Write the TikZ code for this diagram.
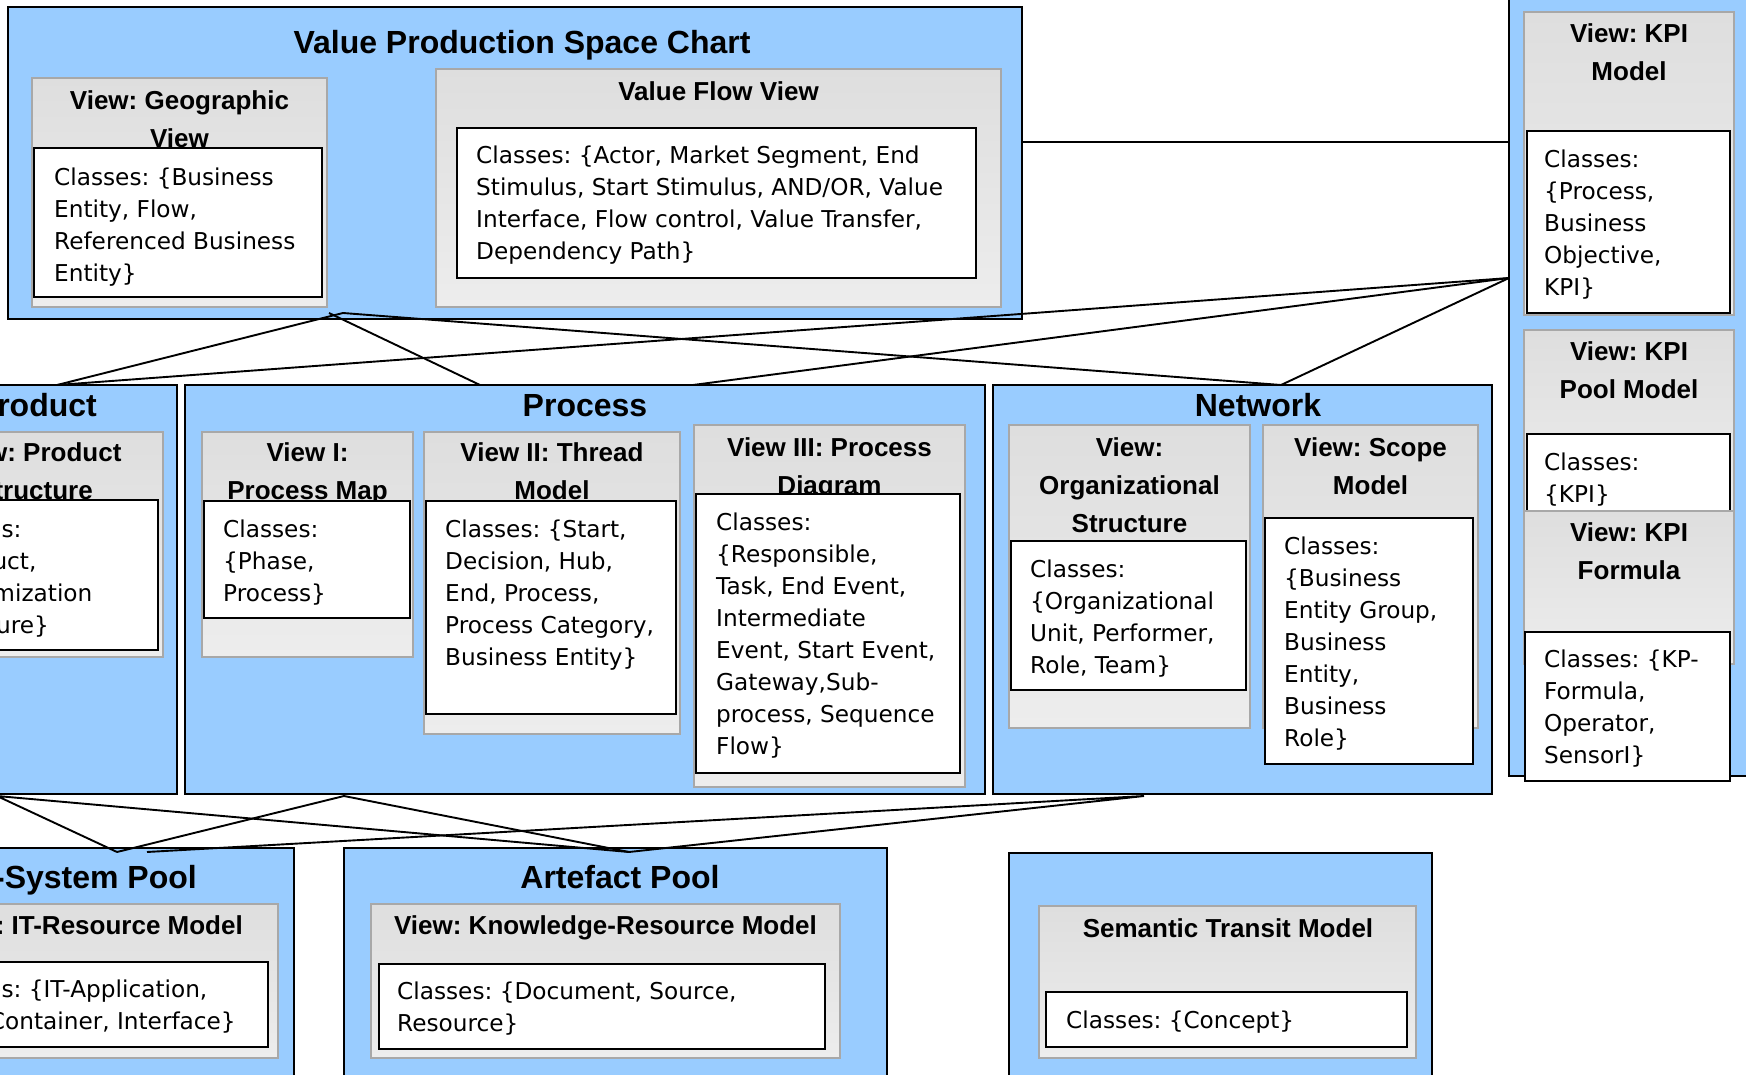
\documentclass[tikz,border=0pt]{standalone}
\usepackage{fontspec}
\setmainfont{DejaVu Sans}
\newfontfamily\mytfont{Liberation Sans}
\usetikzlibrary{fit}
\definecolor{blueF}{HTML}{99CCFF}
\definecolor{grayT}{HTML}{DEDEDE}
\definecolor{grayU}{HTML}{EDEDED}
\definecolor{grayE}{HTML}{A8A8A8}
\newcommand\myfl{\rule{0pt}{0.8em}}
\newcommand\myft{\rule{0pt}{0.73em}}
\newcommand\mygt{\rule{0pt}{0.75em}}
\frenchspacing
\begin{document}
\begin{tikzpicture}[x=1pt,y=-1pt,
  outerbox/.style={draw=black, line width=1.6pt, fill=blueF, inner sep=0pt},
  graybox/.style={draw=grayE, line width=1.6pt, top color=grayT, bottom color=grayU, inner sep=0pt},
  whitebox/.style={draw=black, line width=1.8pt, fill=white, inner sep=0pt},
  grp/.style={font=\mytfont\bfseries\fontsize{32}{38}\selectfont, inner sep=0pt, align=center},
  vtitle/.style={font=\mytfont\bfseries\fontsize{26}{38}\selectfont, inner sep=0pt, align=center},
  body/.style={font=\fontsize{23.2}{32}\selectfont, inner sep=0pt, align=left},
  link/.style={line width=1.9pt, black}]
\useasboundingbox (0,0) rectangle (1746,1075);
\clip (0,0) rectangle (1746,1075);

% ---------- Value Production Space Chart ----------
\node[outerbox, fit={(8,7) (1022,319)}] (vpsc) {};
\node[grp, anchor=north] (vpscT) at (522,29) {\mygt Value Production Space Chart};
\node[graybox, fit={(32,78) (327,307)}] (geo) {};
\node[vtitle, anchor=north] (geoT) at (179.5,90) {\myft View: Geographic\\View};
\node[whitebox, fit={(34,148) (322,297)}] (geoW) {};
\node[body, anchor=north west] (geoC) at (54,167) {\myfl Classes: \{Business\\Entity, Flow,\\Referenced Business\\Entity\}};
\node[graybox, fit={(436,69) (1001,307)}] (vf) {};
\node[vtitle, anchor=north] (vfT) at (718.5,81) {\myft Value Flow View};
\node[whitebox, fit={(457,128) (976,278)}] (vfW) {};
\node[body, anchor=north west] (vfC) at (476,145) {\myfl Classes: \{Actor, Market Segment, End\\Stimulus, Start Stimulus, AND/OR, Value\\Interface, Flow control, Value Transfer,\\Dependency Path\}};

% ---------- KPI column ----------
\node[outerbox, fit={(1509,-10) (1760,776)}] (kpi) {};
\node[graybox, fit={(1524,12) (1734,315)}] (kpim) {};
\node[vtitle, anchor=north] (kpimT) at (1629,23) {\myft View: KPI\\Model};
\node[whitebox, fit={(1527,131) (1730,313)}] (kpimW) {};
\node[body, anchor=north west] (kpimC) at (1544,149) {\myfl Classes:\\\{Process,\\Business\\Objective,\\KPI\}};
\node[graybox, fit={(1524,330) (1734,514)}] (kpip) {};
\node[vtitle, anchor=north] (kpipT) at (1629,341) {\myft View: KPI\\Pool Model};
\node[whitebox, fit={(1527,434) (1730,540)}] (kpipW) {};
\node[body, anchor=north west] (kpipC) at (1544,452) {\myfl Classes:\\\{KPI\}};
\node[graybox, fit={(1524,511) (1734,664)}] (kpif) {};
\node[vtitle, anchor=north] (kpifT) at (1629,522) {\myft View: KPI\\Formula};
\node[whitebox, fit={(1525,632) (1730,781)}] (kpifW) {};
\node[body, anchor=north west] (kpifC) at (1544,649) {\myfl Classes: \{KP-\\Formula,\\Operator,\\SensorI\}};

% ---------- Product ----------
\node[outerbox, fit={(-110,385) (177,794)}] (prod) {};
\node[grp, anchor=north east] (prodT0) at (97,392) {\mygt Product};
\node[graybox, fit={(-93,432) (163,657)}] (prodV) {};
\node[vtitle, anchor=north] (prodVT) at (35,442) {\myft View: Product\\Structure};
\node[whitebox, fit={(-100,500) (158,650)}] (prodW) {};
\node[body, anchor=north west] (prodC) at (-74,519) {\myfl Classes:\\\{Product,\\Customization\\Structure\}};

% ---------- Process ----------
\node[outerbox, fit={(185,385) (985,794)}] (proc) {};
\node[grp, anchor=north] (procT0) at (585,392) {\mygt Process};
\node[graybox, fit={(202,432) (413,657)}] (v1) {};
\node[vtitle, anchor=north] (v1T) at (307.5,442) {\myft View I:\\Process Map};
\node[whitebox, fit={(204,501) (410,618)}] (v1W) {};
\node[body, anchor=north west] (v1C) at (223,519) {\myfl Classes:\\\{Phase,\\Process\}};
\node[graybox, fit={(424,432) (680,734)}] (v2) {};
\node[vtitle, anchor=north] (v2T) at (552,442) {\myft View II: Thread\\Model};
\node[whitebox, fit={(426,501) (676,714)}] (v2W) {};
\node[body, anchor=north west] (v2C) at (445,519) {\myfl Classes: \{Start,\\Decision, Hub,\\End, Process,\\Process Category,\\Business Entity\}};
\node[graybox, fit={(694,425) (965,787)}] (v3) {};
\node[vtitle, anchor=north] (v3T) at (829.5,437) {\myft View III: Process\\Diagram};
\node[whitebox, fit={(696,494) (960,773)}] (v3W) {};
\node[body, anchor=north west] (v3C) at (716,512) {\myfl Classes:\\\{Responsible,\\Task, End Event,\\Intermediate\\Event, Start Event,\\Gateway,Sub-\\process, Sequence\\Flow\}};

% ---------- Network ----------
\node[outerbox, fit={(993,385) (1492,794)}] (net) {};
\node[grp, anchor=north] (netT0) at (1258,392) {\mygt Network};
\node[graybox, fit={(1009,425) (1250,728)}] (org) {};
\node[vtitle, anchor=north] (orgT) at (1129.5,437) {\myft View:\\Organizational\\Structure};
\node[whitebox, fit={(1011,541) (1246,690)}] (orgW) {};
\node[body, anchor=north west] (orgC) at (1030,559) {\myfl Classes:\\\{Organizational\\Unit, Performer,\\Role, Team\}};
\node[graybox, fit={(1263,425) (1478,728)}] (scp) {};
\node[vtitle, anchor=north] (scpT) at (1370.5,437) {\myft View: Scope\\Model};
\node[whitebox, fit={(1265,518) (1473,764)}] (scpW) {};
\node[body, anchor=north west] (scpC) at (1284,536) {\myfl Classes:\\\{Business\\Entity Group,\\Business\\Entity,\\Business\\Role\}};

% ---------- IT-System Pool ----------
\node[outerbox, fit={(-110,848) (294,1090)}] (its) {};
\node[grp, anchor=north east] (itsT) at (197,864) {\mygt IT-System Pool};
\node[graybox, fit={(-100,904) (278,1058)}] (itr) {};
\node[vtitle, anchor=north east] (itrT) at (243,915) {\myft View: IT-Resource Model};
\node[whitebox, fit={(-100,962) (268,1047)}] (itrW) {};
\node[body, anchor=north west] (itrC) at (-74,979) {\myfl Classes: \{IT-Application,\\Data Container, Interface\}};

% ---------- Artefact Pool ----------
\node[outerbox, fit={(344,848) (887,1090)}] (art) {};
\node[grp, anchor=north] (artT0) at (620,864) {\mygt Artefact Pool};
\node[graybox, fit={(371,904) (840,1058)}] (kr) {};
\node[vtitle, anchor=north] (krT) at (605.5,915) {\myft View: Knowledge-Resource Model};
\node[whitebox, fit={(379,964) (825,1049)}] (krW) {};
\node[body, anchor=north west] (krC) at (397,981) {\myfl Classes: \{Document, Source,\\Resource\}};

% ---------- Semantic Transit ----------
\node[outerbox, fit={(1009,853) (1432,1090)}] (sem) {};
\node[graybox, fit={(1039,906) (1416,1058)}] (st) {};
\node[vtitle, anchor=north] (stT) at (1228,918) {\myft Semantic Transit Model};
\node[whitebox, fit={(1046,992) (1407,1047)}] (stW) {};
\node[body, anchor=north west] (stC) at (1066,1010) {\myfl Classes: \{Concept\}};

% ---------- connectors ----------
\coordinate (hA) at (1022,142);
\coordinate (hB) at (1509,142);
\coordinate (vpA) at (329,313);
\coordinate (vpB) at (343,313);
\coordinate (kpiJ) at (1509,278);
\coordinate (prodTop) at (57,385);
\coordinate (procTop1) at (480,385);
\coordinate (procTop2) at (693,385);
\coordinate (netTop) at (1281,385);
\coordinate (prodBot) at (-3,796);
\coordinate (procBot) at (344,796);
\coordinate (netBot) at (1144,796);
\coordinate (itA) at (117,852);
\coordinate (itB) at (147,852);
\coordinate (artTop) at (629,852);

\draw[link] (hA) -- (hB);
\draw[link] (prodTop) -- (vpB) -- (netTop);
\draw[link] (vpA) -- (procTop1);
\draw[link] (prodTop) -- (kpiJ);
\draw[link] (procTop2) -- (kpiJ);
\draw[link] (netTop) -- (kpiJ);
\draw[link] (itA) -- (prodBot) -- (artTop);
\draw[link] (itA) -- (procBot) -- (artTop);
\draw[link] (itB) -- (netBot) -- (artTop);
\end{tikzpicture}
\end{document}
